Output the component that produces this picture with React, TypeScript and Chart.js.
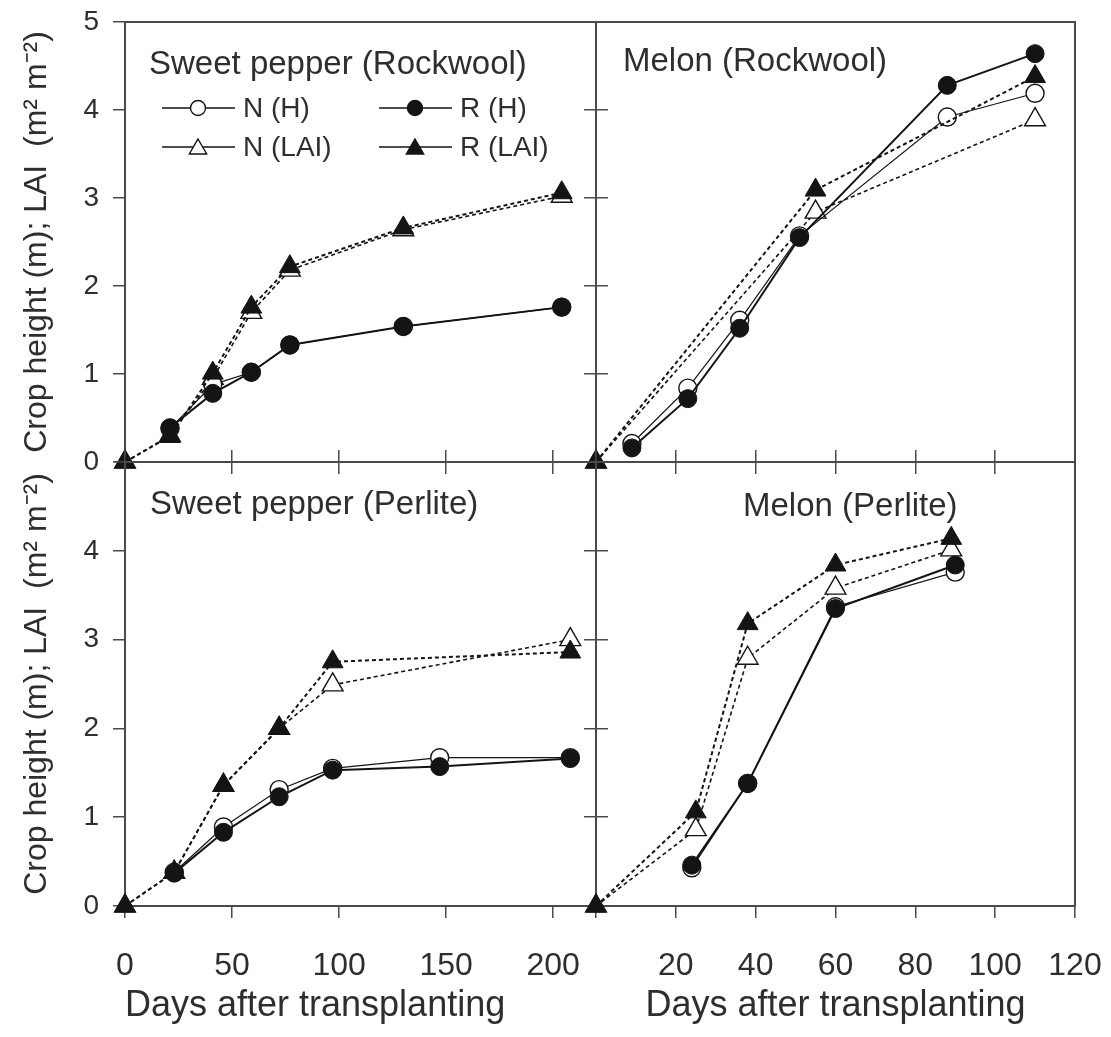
import React, { useEffect, useRef } from 'react';
import { Chart, registerables } from 'chart.js';
Chart.register(...registerables);

// ---------- Data ----------
// Sweet pepper (Rockwool)
const spRwDaysH = [21, 41, 59, 77, 130, 204];
const spRwNH = [0.38, 0.88, 1.02, 1.33, 1.54, 1.76];
const spRwRH = [0.39, 0.78, 1.02, 1.33, 1.54, 1.76];
const spRwDaysLAI = [0, 21, 41, 59, 77, 130, 204];
const spRwNLAI = [0, 0.3, 0.95, 1.7, 2.18, 2.64, 3.02];
const spRwRLAI = [0, 0.29, 1.01, 1.76, 2.22, 2.66, 3.06];

// Melon (Rockwool)
const mRwDaysH = [9, 23, 36, 51, 88, 110];
const mRwNH = [0.21, 0.84, 1.61, 2.57, 3.92, 4.19];
const mRwRH = [0.16, 0.72, 1.52, 2.55, 4.28, 4.64];
const mRwDaysLAI = [0, 55, 110];
const mRwNLAI = [0, 2.84, 3.89];
const mRwRLAI = [0, 3.09, 4.38];

// Sweet pepper (Perlite)
const spPeDaysH = [23, 46, 72, 97, 147, 208];
const spPeNH = [0.38, 0.89, 1.31, 1.55, 1.67, 1.67];
const spPeRH = [0.37, 0.83, 1.23, 1.53, 1.57, 1.66];
const spPeDaysLAI = [0, 23, 46, 72, 97, 208];
const spPeNLAI = [0, 0.38, 1.36, 2.0, 2.49, 3.0];
const spPeRLAI = [0, 0.38, 1.36, 2.0, 2.75, 2.86];

// Melon (Perlite)
const mPeDaysH = [24, 38, 60, 90];
const mPeNH = [0.43, 1.38, 3.37, 3.76];
const mPeRH = [0.46, 1.38, 3.35, 3.84];
const mPeDaysLAI = [0, 25, 38, 60, 89];
const mPeNLAI = [0, 0.86, 2.79, 3.58, 4.01];
const mPeRLAI = [0, 1.06, 3.18, 3.84, 4.14];

// Labels
const seriesLabels = ['N (H)', 'R (H)', 'N (LAI)', 'R (LAI)'];
const panelTitles = ['Sweet pepper (Rockwool)', 'Melon (Rockwool)', 'Sweet pepper (Perlite)', 'Melon (Perlite)'];
const yAxisTitle = 'Crop height (m); LAI  (m² m⁻²)';
const xAxisTitle = 'Days after transplanting';
const yTickMax = 5;
const yTickStep = 1;
const xMaxLeft = 220;
const xStepLeft = 50;
const xMaxRight = 120;
const xStepRight = 20;

// ---------- Styling ----------
const FONT = '"Liberation Sans", Arial, Helvetica, sans-serif';
const TEXT = '#2e2e2e';
const AXIS = '#4a4a4a';
const INK = '#141414';
const W = 1111;
const H = 1037;

type Panel = {
  col: number;
  row: number;
  title: string;
  titlePos: [number, number];
  xMax: number;
  xStep: number;
  daysH: number[];
  nH: number[];
  rH: number[];
  daysLAI: number[];
  nLAI: number[];
  rLAI: number[];
  legend: boolean;
  padding: { left: number; top: number; right: number; bottom: number };
};

const panels: Panel[] = [
  {
    col: 0, row: 0, title: panelTitles[0], titlePos: [149, 65], xMax: xMaxLeft, xStep: xStepLeft,
    daysH: spRwDaysH, nH: spRwNH, rH: spRwRH, daysLAI: spRwDaysLAI, nLAI: spRwNLAI, rLAI: spRwRLAI,
    legend: true, padding: { left: 0, top: 22, right: 501, bottom: 561 },
  },
  {
    col: 1, row: 0, title: panelTitles[1], titlePos: [623, 62], xMax: xMaxRight, xStep: xStepRight,
    daysH: mRwDaysH, nH: mRwNH, rH: mRwRH, daysLAI: mRwDaysLAI, nLAI: mRwNLAI, rLAI: mRwRLAI,
    legend: false, padding: { left: 582, top: 22, right: 36, bottom: 561 },
  },
  {
    col: 0, row: 1, title: panelTitles[2], titlePos: [150, 505], xMax: xMaxLeft, xStep: xStepLeft,
    daysH: spPeDaysH, nH: spPeNH, rH: spPeRH, daysLAI: spPeDaysLAI, nLAI: spPeNLAI, rLAI: spPeRLAI,
    legend: false, padding: { left: 0, top: 448, right: 501, bottom: 0 },
  },
  {
    col: 1, row: 1, title: panelTitles[3], titlePos: [743, 507], xMax: xMaxRight, xStep: xStepRight,
    daysH: mPeDaysH, nH: mPeNH, rH: mPeRH, daysLAI: mPeDaysLAI, nLAI: mPeNLAI, rLAI: mPeRLAI,
    legend: false, padding: { left: 582, top: 448, right: 36, bottom: 0 },
  },
];

const legendItems = [
  { label: seriesLabels[0], shape: 'circle', filled: false, x: 162, y: 108 },
  { label: seriesLabels[1], shape: 'circle', filled: true, x: 379, y: 108 },
  { label: seriesLabels[2], shape: 'triangle', filled: false, x: 162, y: 147 },
  { label: seriesLabels[3], shape: 'triangle', filled: true, x: 379, y: 147 },
];

function drawMarker(ctx: CanvasRenderingContext2D, shape: string, filled: boolean, x: number, y: number, r: number) {
  ctx.save();
  ctx.beginPath();
  if (shape === 'circle') {
    ctx.arc(x, y, r, 0, Math.PI * 2);
  } else {
    ctx.moveTo(x, y - r);
    ctx.lineTo(x + r * Math.sin((2 * Math.PI) / 3), y - r * Math.cos((2 * Math.PI) / 3));
    ctx.lineTo(x + r * Math.sin((4 * Math.PI) / 3), y - r * Math.cos((4 * Math.PI) / 3));
    ctx.closePath();
  }
  ctx.fillStyle = filled ? INK : '#ffffff';
  ctx.fill();
  ctx.lineWidth = 1.4;
  ctx.strokeStyle = INK;
  ctx.stroke();
  ctx.restore();
}

const decorPlugin = {
  id: 'panelDecor',
  beforeDatasetsDraw(chart: any) {
    const { ctx, chartArea } = chart;
    ctx.save();
    ctx.strokeStyle = AXIS;
    ctx.lineWidth = 2;
    ctx.strokeRect(chartArea.left, chartArea.top, chartArea.right - chartArea.left, chartArea.bottom - chartArea.top);
    ctx.restore();
  },
  afterDraw(chart: any) {
    const opts = chart.options.plugins.panelDecor;
    const { ctx } = chart;
    ctx.save();
    ctx.fillStyle = TEXT;
    ctx.font = `33px ${FONT}`;
    ctx.textBaseline = 'middle';
    ctx.textAlign = 'left';
    ctx.fillText(opts.title, opts.titlePos[0], opts.titlePos[1]);
    if (opts.legend) {
      ctx.font = `28px ${FONT}`;
      for (const it of legendItems) {
        ctx.beginPath();
        ctx.strokeStyle = INK;
        ctx.lineWidth = 1.4;
        ctx.moveTo(it.x, it.y);
        ctx.lineTo(it.x + 73, it.y);
        ctx.stroke();
        drawMarker(ctx, it.shape, it.filled, it.x + 36, it.shape === 'circle' ? it.y : it.y + 2, it.shape === 'circle' ? 7.5 : 10);
        ctx.fillStyle = TEXT;
        ctx.fillText(it.label, it.x + 81, it.y + 1);
      }
    }
    ctx.restore();
  },
};

function makeConfig(p: Panel): any {
  const pts = (days: number[], vals: number[]) => days.map((d, i) => ({ x: d, y: vals[i] }));
  const grid = { drawOnChartArea: false, drawTicks: true, tickLength: 12, color: AXIS, lineWidth: 1.5 };
  const scales: any = {
    x: {
      type: 'linear',
      position: 'bottom',
      min: 0,
      max: p.xMax,
      ticks: {
        stepSize: p.xStep,
        includeBounds: false,
        autoSkip: false,
        maxRotation: 0,
        display: p.row === 1,
        color: TEXT,
        padding: 29,
        font: { family: FONT, size: 32 },
        callback: (v: number) => (p.col === 1 && v === 0 ? '' : String(v)),
      },
      grid,
      border: { display: true, color: AXIS, width: 2 },
      title: {
        display: p.row === 1,
        text: xAxisTitle,
        color: TEXT,
        align: p.col === 0 ? 'start' : 'center',
        font: { family: FONT, size: 36 },
        padding: { top: 0, bottom: 9 },
      },
      afterFit: (s: any) => {
        s.height = p.row === 1 ? 131 : 14;
        s.paddingLeft = 0;
        s.paddingRight = 0;
      },
    },
    y: {
      type: 'linear',
      position: 'left',
      min: 0,
      max: yTickMax,
      ticks: {
        stepSize: yTickStep,
        display: p.col === 0,
        color: TEXT,
        padding: 14,
        font: { family: FONT, size: 28 },
        callback: (v: number) => (p.row === 1 && v === yTickMax ? '' : String(v)),
      },
      grid,
      border: { display: true, color: AXIS, width: 2 },
      title: {
        display: p.col === 0,
        text: yAxisTitle,
        color: TEXT,
        font: { family: FONT, size: 32 },
        padding: { top: 18, bottom: 0 },
      },
      afterFit: (s: any) => {
        s.width = p.col === 0 ? 125 : 14;
        s.paddingTop = 0;
        s.paddingBottom = 0;
      },
    },
  };
  if (p.row === 1) {
    scales.x2 = {
      type: 'linear', position: 'top', min: 0, max: p.xMax,
      ticks: { stepSize: p.xStep, includeBounds: false, display: false },
      grid, border: { display: false },
      afterFit: (s: any) => { s.height = 14; s.paddingLeft = 0; s.paddingRight = 0; },
    };
  }
  if (p.col === 0) {
    scales.y2 = {
      type: 'linear', position: 'right', min: 0, max: yTickMax,
      ticks: { stepSize: yTickStep, display: false },
      grid, border: { display: false },
      afterFit: (s: any) => { s.width = 14; s.paddingTop = 0; s.paddingBottom = 0; },
    };
  }
  const common = { tension: 0, clip: false, pointHoverRadius: 9 };
  return {
    type: 'line',
    data: {
      datasets: [
        {
          ...common, label: seriesLabels[1], data: pts(p.daysH, p.rH),
          borderColor: INK, borderWidth: 2, pointStyle: 'circle', pointRadius: 9,
          pointBackgroundColor: INK, pointBorderColor: INK, pointBorderWidth: 1,
        },
        {
          ...common, label: seriesLabels[3], data: pts(p.daysLAI, p.rLAI),
          borderColor: INK, borderWidth: 2, borderDash: [4, 3], pointStyle: 'triangle', pointRadius: 12,
          pointBackgroundColor: INK, pointBorderColor: INK, pointBorderWidth: 1,
        },
        {
          ...common, label: seriesLabels[0], data: pts(p.daysH, p.nH),
          borderColor: INK, borderWidth: 1.2, pointStyle: 'circle', pointRadius: 9,
          pointBackgroundColor: '#ffffff', pointBorderColor: INK, pointBorderWidth: 1.4,
        },
        {
          ...common, label: seriesLabels[2], data: pts(p.daysLAI, p.nLAI),
          borderColor: INK, borderWidth: 1.6, borderDash: [4, 3], pointStyle: 'triangle', pointRadius: 12,
          pointBackgroundColor: '#ffffff', pointBorderColor: INK, pointBorderWidth: 1.4,
        },
      ],
    },
    options: {
      animation: false,
      responsive: false,
      devicePixelRatio: 1,
      layout: { padding: p.padding },
      scales,
      plugins: {
        legend: { display: false },
        tooltip: { enabled: false },
        panelDecor: { title: p.title, titlePos: p.titlePos, legend: p.legend },
      },
    },
    plugins: [decorPlugin],
  };
}

function PanelCanvas({ panel }: { panel: Panel }) {
  const ref = useRef<HTMLCanvasElement | null>(null);
  useEffect(() => {
    if (!ref.current) return;
    const chart = new Chart(ref.current, makeConfig(panel));
    return () => chart.destroy();
  }, [panel]);
  return (
    <canvas
      ref={ref}
      width={W}
      height={H}
      style={{ position: 'absolute', left: 0, top: 0, width: W, height: H }}
    />
  );
}

export default function App() {
  return (
    <div style={{ position: 'absolute', left: 0, top: 0, width: W, height: H, background: '#ffffff', overflow: 'hidden' }}>
      {panels.map((p, i) => (
        <PanelCanvas key={i} panel={p} />
      ))}
    </div>
  );
}
